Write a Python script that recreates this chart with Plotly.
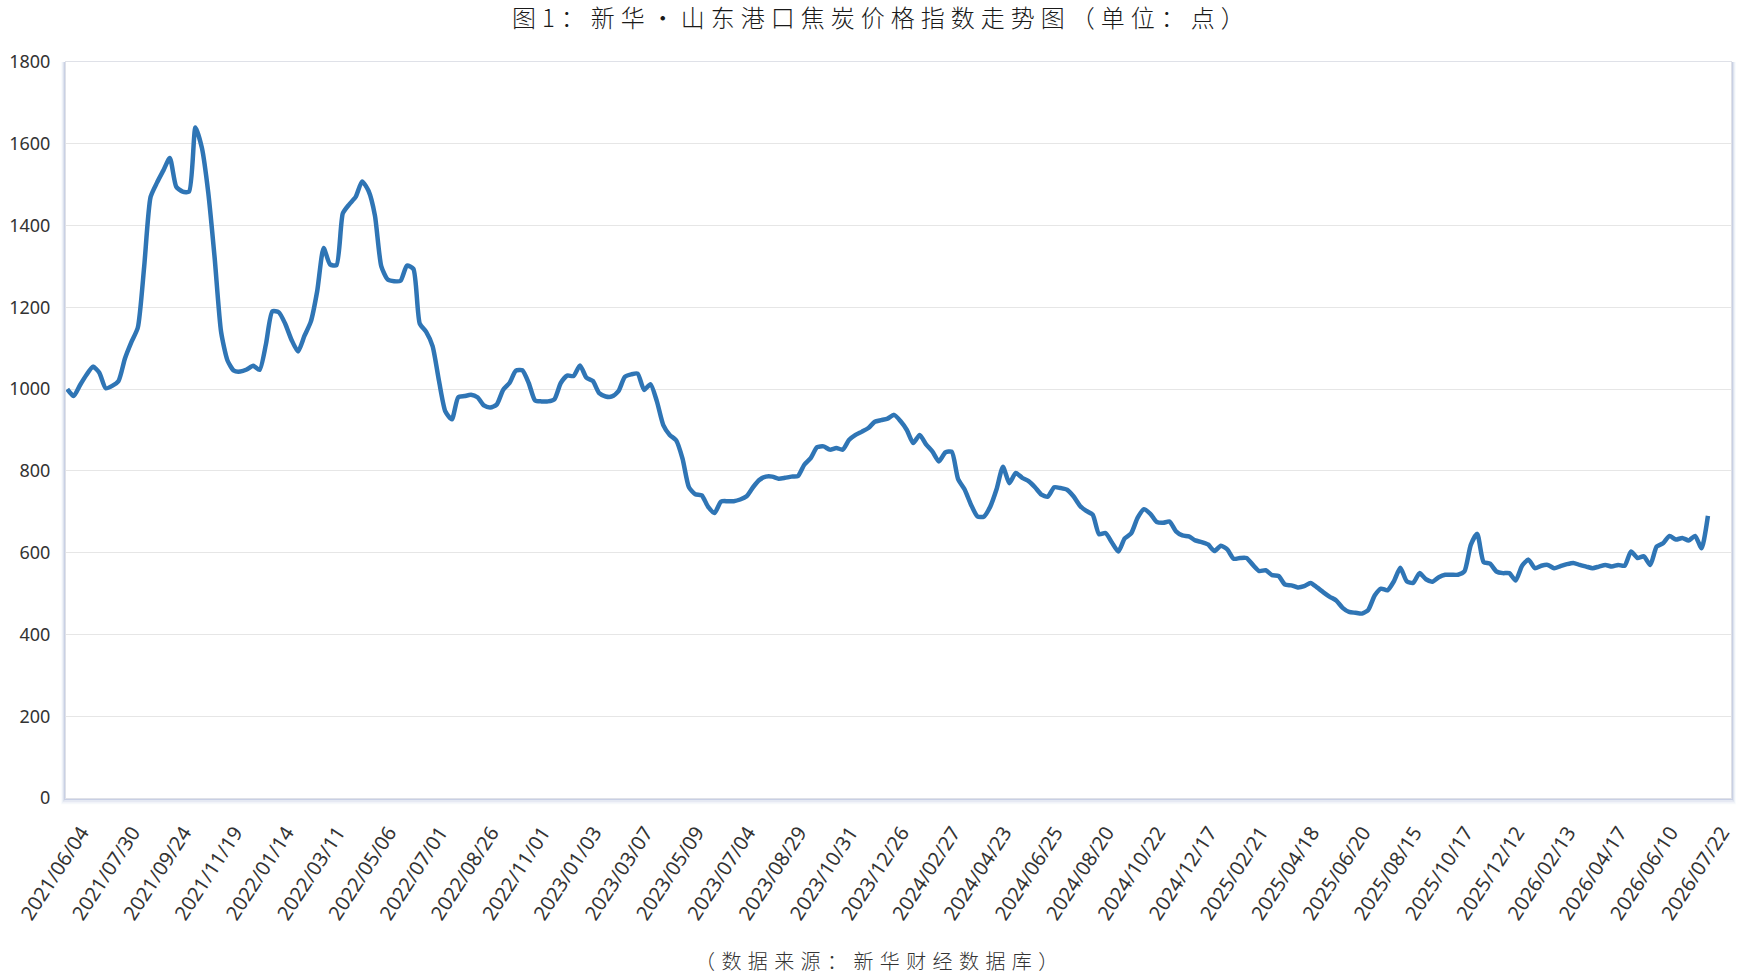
import plotly.graph_objects as go

tick_labels = [
    "2021/06/04", "2021/07/30", "2021/09/24", "2021/11/19", "2022/01/14", "2022/03/11",
    "2022/05/06", "2022/07/01", "2022/08/26", "2022/11/01", "2023/01/03", "2023/03/07",
    "2023/05/09", "2023/07/04", "2023/08/29", "2023/10/31", "2023/12/26", "2024/02/27",
    "2024/04/23", "2024/06/25", "2024/08/20", "2024/10/22", "2024/12/17", "2025/02/21",
    "2025/04/18", "2025/06/20", "2025/08/15", "2025/10/17", "2025/12/12", "2026/02/13",
    "2026/04/17", "2026/06/10", "2026/07/22",
]
label_step = 8

index_values = [
    1000, 983, 1010, 1035, 1055, 1040, 1002, 1008, 1020, 1075,
    1115, 1150, 1300, 1470, 1505, 1535, 1565, 1495, 1483, 1483,
    1640, 1590, 1480, 1320, 1140, 1070, 1045, 1043, 1048, 1057,
    1047, 1110, 1190, 1188, 1160, 1120, 1092, 1130, 1165, 1240,
    1345, 1305, 1303, 1430, 1452, 1470, 1508, 1485, 1425, 1300,
    1268, 1264, 1265, 1302, 1294, 1160, 1140, 1105, 1020, 945,
    926, 980, 983, 986, 980, 960, 955, 962, 998, 1015,
    1045, 1046, 1015, 972, 970, 970, 975, 1015, 1033, 1032,
    1058, 1028, 1020, 990, 982, 982, 995, 1030, 1036, 1038,
    998, 1012, 970, 912, 888, 875, 830, 760, 743, 740,
    712, 697, 725, 726, 726, 730, 738, 760, 778, 786,
    786, 781, 783, 786, 787, 815, 831, 858, 860, 852,
    856, 852, 876, 888, 896, 905, 920, 924, 928, 937,
    922, 900, 868, 888, 865, 847, 823, 845, 847, 780,
    755, 718, 689, 688, 712, 755, 810, 770, 795, 783,
    775, 760, 742, 737, 760, 758, 754, 738, 715, 702,
    693, 645, 648, 625, 603, 635, 647, 685, 706, 695,
    675, 673, 676, 652, 642, 640, 630, 626, 620, 604,
    617, 608, 585, 587, 587, 570, 555, 557, 545, 543,
    522, 520, 515, 518, 526, 515, 503, 492, 483, 465,
    455, 453, 451, 460, 495, 512, 508, 530, 563, 530,
    526, 550, 535, 529, 540, 546, 546, 546, 554, 619,
    646, 577, 573, 554, 550, 550, 532, 568, 583, 562,
    568, 570, 562, 567, 572, 575, 570, 566, 562, 566,
    570, 566, 570, 568, 603, 587, 591, 570, 615, 623,
    641, 632, 636, 630, 641, 611, 690,
]

title_text = "图1：新华•山东港口焦炭价格指数走势图（单位：点）"
source_text = "（数据来源：新华财经数据库）"

W, H = 1754, 976
ML, MR, MT, MB = 66, 23, 62, 178
PW, PH = W - ML - MR, H - MT - MB

x_idx = list(range(len(index_values)))

fig = go.Figure()
fig.add_trace(go.Scatter(
    x=x_idx, y=index_values, mode="lines",
    line=dict(color="#2f75b5", width=4.5, shape="spline", smoothing=0.6),
    hoverinfo="x+y", showlegend=False,
))

# soft shadow around the plot frame (left, bottom, right)
shapes = []
for k, a in [(1, 0.38), (2, 0.24), (3, 0.13), (4, 0.06)]:
    dx = k / PW
    dy = k / PH
    path = f"M {-dx} 1 L {-dx} {-dy * 1.4} L {1 + dx} {-dy * 1.4} L {1 + dx} 1"
    shapes.append(dict(type="path", xref="paper", yref="paper", path=path,
                       line=dict(color=f"rgba(110,130,185,{a})", width=1.3), layer="below"))

fig.update_layout(
    width=W, height=H,
    margin=dict(l=ML, r=MR, t=MT, b=MB, autoexpand=False),
    paper_bgcolor="white", plot_bgcolor="white",
    shapes=shapes,
    xaxis=dict(
        range=[-0.2, 259.6],
        tickmode="array",
        tickvals=[i * label_step for i in range(len(tick_labels))],
        ticktext=tick_labels,
        tickangle=-57,
        tickfont=dict(family="Noto Sans, Open Sans, sans-serif", size=20, color="#333333"),
        showgrid=False, zeroline=False,
        showline=True, linecolor="#dfe1e8", linewidth=1, mirror=True,
        ticks="", ticklabelstandoff=14, ticklabelshift=14,
        automargin=False,
    ),
    yaxis=dict(
        range=[0, 1800], dtick=200,
        tickfont=dict(family="Noto Sans, Open Sans, sans-serif", size=18, color="#333333"),
        showgrid=True, gridcolor="#e6e6e6", gridwidth=1,
        zeroline=False,
        showline=True, linecolor="#dfe1e8", linewidth=1, mirror=True,
        ticks="", ticklabelstandoff=11,
        automargin=False,
    ),
    annotations=[
        dict(text=f'<span style="letter-spacing:6px">{title_text}</span>',
             xref="paper", yref="paper", x=(881 - ML) / PW, y=1 + (MT - 17) / PH,
             xanchor="center", yanchor="middle", showarrow=False,
             font=dict(family="Noto Sans CJK SC", size=24, color="#1a1a1a", weight=300)),
        dict(text=f'<span style="letter-spacing:6.4px">{source_text}</span>',
             xref="paper", yref="paper", x=(880 - ML) / PW, y=-(960 - MT - PH) / PH,
             xanchor="center", yanchor="middle", showarrow=False,
             font=dict(family="Noto Sans CJK SC", size=20, color="#333333", weight=300)),
    ],
)

fig.write_html("out.html")
